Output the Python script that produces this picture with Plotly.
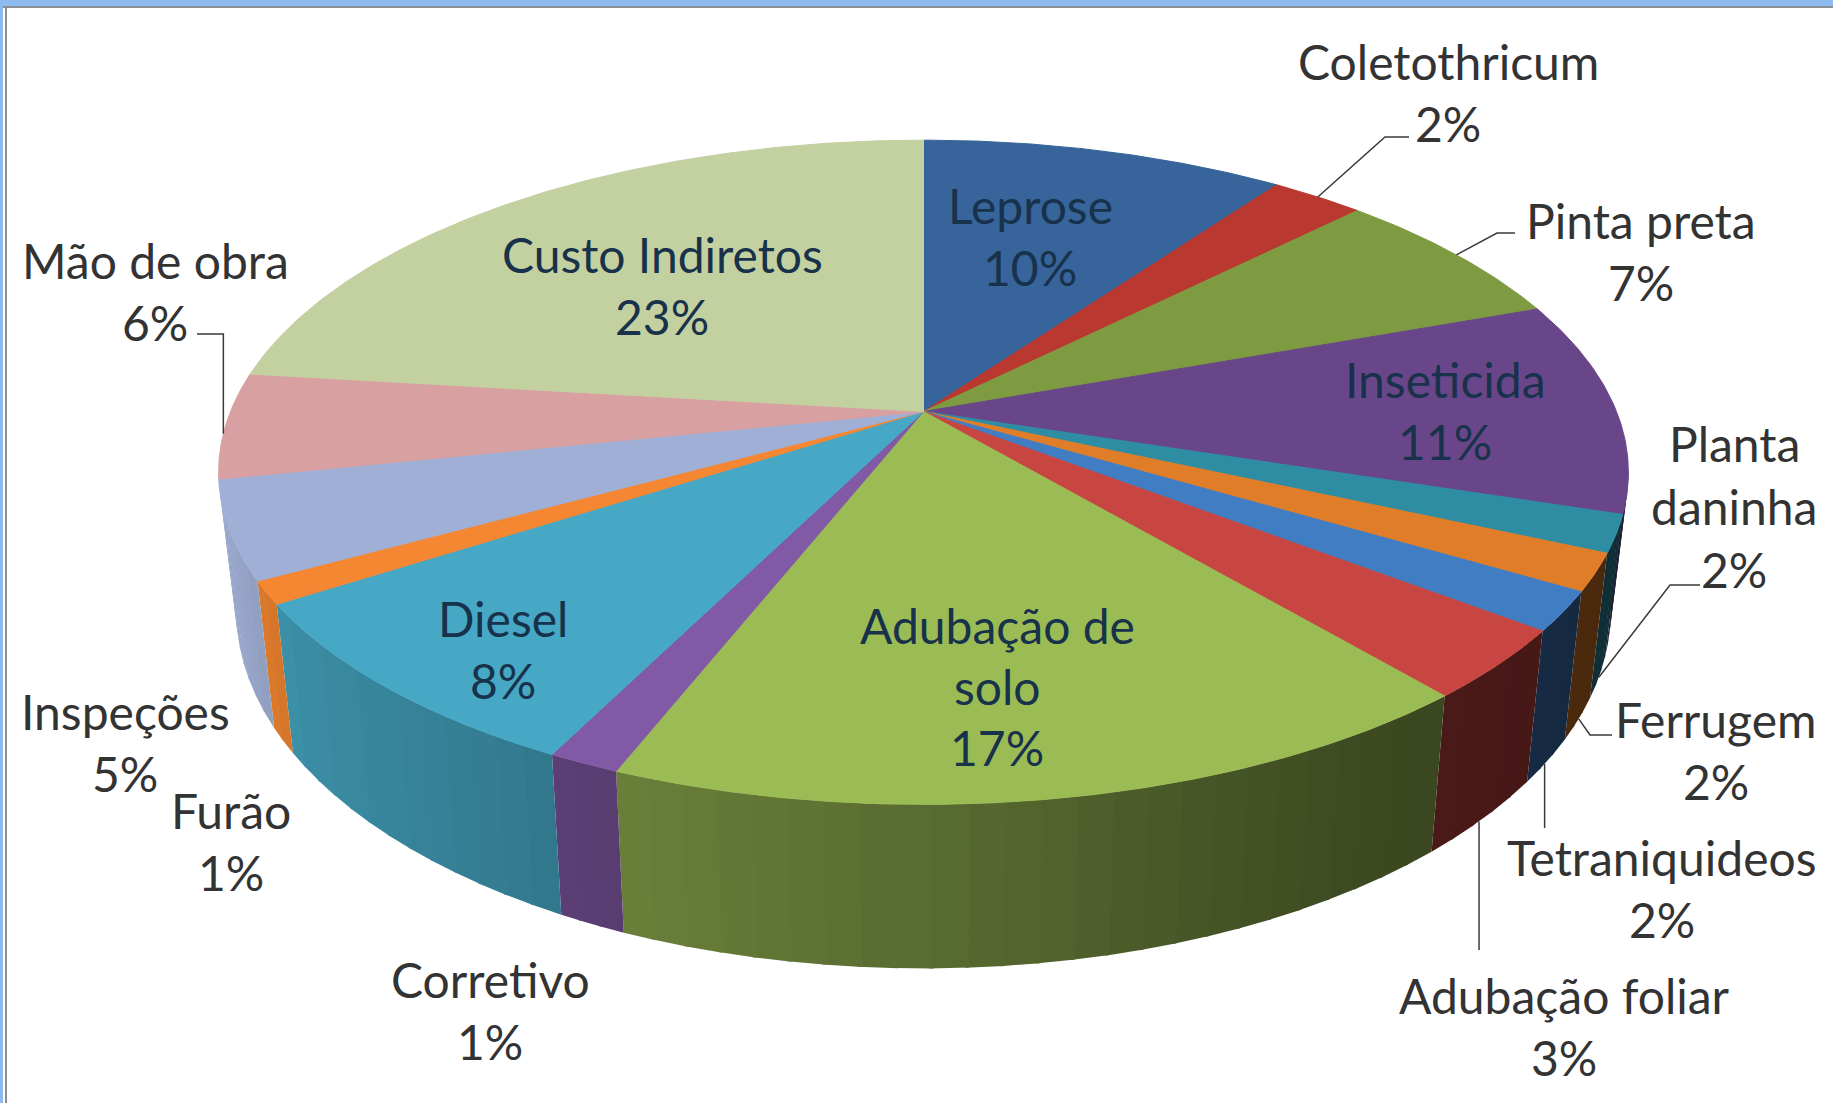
import numpy as np
import plotly.graph_objects as go

# slices, clockwise from 12 o'clock
names = ["Leprose", "Coletothricum", "Pinta preta", "Inseticida", "Planta<br>daninha",
         "Ferrugem", "Tetraniquideos", "Adubação foliar", "Adubação de<br>solo",
         "Corretivo", "Diesel", "Furão", "Inspeções", "Mão de obra", "Custo Indiretos"]
values = [9.95, 2.55, 7.0, 10.4, 1.8, 1.8, 1.9, 3.4, 17.2, 1.4, 8.5, 1.1, 4.75, 5.15, 23.1]
percent_labels = ["10%", "2%", "7%", "11%", "2%", "2%", "2%", "3%", "17%",
                  "1%", "8%", "1%", "5%", "6%", "23%"]

colors = ["#37649a", "#b9382f", "#7f9b41", "#69468a", "#2f8da3", "#e07d28", "#417dc3",
          "#c84641", "#9bbb55", "#8259a5", "#46a8c5", "#f58732", "#a0afd5", "#d8a0a0", "#c3d0a0"]

# label placement: centre x, y of first line, line gap
label_pos = {
    "Leprose": (1030, 205, 62), "Coletothricum": (1448, 61, 62), "Pinta preta": (1641, 220, 62),
    "Inseticida": (1445, 379, 62), "Planta<br>daninha": (1734, 443, 63), "Ferrugem": (1716, 719, 62),
    "Tetraniquideos": (1662, 857, 62), "Adubação foliar": (1564, 995, 62),
    "Adubação de<br>solo": (997, 625, 61), "Corretivo": (490, 979, 62), "Diesel": (503, 618, 62),
    "Furão": (231, 810, 62), "Inspeções": (125, 711, 62), "Mão de obra": (155, 260, 62),
    "Custo Indiretos": (662, 254, 62),
}
inside = {"Leprose", "Inseticida", "Adubação de<br>solo", "Diesel", "Custo Indiretos"}

# leader lines: slice, which rim, angle nudge, points towards the label (None = keep start x)
leaders = [
    ("Coletothricum", False, 0, [(1385, 137), (1409, 137)]),
    ("Pinta preta", False, 0, [(1497, 233), (1515, 233)]),
    ("Planta<br>daninha", True, 0, [(1670, 585), (1700, 585)]),
    ("Ferrugem", True, 0, [(1590, 735), (1612, 735)]),
    ("Tetraniquideos", True, 0.5, [(None, 828)]),
    ("Adubação foliar", True, 0.6, [(None, 950)]),
    ("Mão de obra", False, -1.5, [(None, 334), (197, 334)]),
]

# pie geometry in page pixels, with a simple perspective term
CX, CY = 923.5, 411.5
RX, RY = 693, 321
PERSP = 0.183
DEPTH = 134
WALL_X = 0.975
FONT = "Lato"
FONT_SIZE = 48


def rim(theta, lower=False):
    """Project an angle (degrees clockwise from top) on to the top or bottom rim."""
    t = np.radians(theta)
    s, c = -np.cos(t), np.sin(t)
    w = 1 - PERSP * s
    x = RX * c / w
    y = RY * s / w
    if lower:
        return CX + WALL_X * x, CY + y + DEPTH / w
    return CX + x, CY + y


def wall_color(hex_color, x):
    shade = np.interp(x, [230, 290, 450, 620, 1000, 1300, 1600],
                      [0.95, 0.84, 0.76, 0.68, 0.55, 0.42, 0.33])
    rgb = [int(hex_color[i:i + 2], 16) for i in (1, 3, 5)]
    return "rgb({},{},{})".format(*[int(v * shade) for v in rgb])


def add_poly(fig, xs, ys, color, width=1):
    fig.add_trace(go.Scatter(x=xs, y=ys, mode="lines", fill="toself", fillcolor=color,
                             line=dict(color=color, width=width), hoverinfo="skip", showlegend=False))


fig = go.Figure()

edges = np.concatenate([[0], np.cumsum(values)]) / sum(values) * 360
mids = (edges[:-1] + edges[1:]) / 2

# side wall first, in narrow strips so the shading can follow the rim
WALL_FROM, WALL_TO = 100, 258.3
for i, color in enumerate(colors):
    a0, a1 = max(edges[i], WALL_FROM), min(edges[i + 1], WALL_TO)
    if a1 <= a0:
        continue
    n = max(1, int(np.ceil((a1 - a0) / 2.5)))
    steps = np.linspace(a0, a1, n + 1)
    for t0, t1 in zip(steps[:-1], steps[1:]):
        # each strip runs a little into the next one to hide the seam
        arc = np.linspace(t0, min(t1 + 0.3, a1), 4)
        tx, ty = rim(arc)
        bx, by = rim(arc[::-1], lower=True)
        add_poly(fig, list(tx) + list(bx), list(ty) + list(by), wall_color(color, tx.mean()), width=0)

# top face
for i, color in enumerate(colors):
    arc = np.linspace(edges[i], edges[i + 1], max(3, int((edges[i + 1] - edges[i]) * 2)))
    tx, ty = rim(arc)
    add_poly(fig, [CX] + list(tx) + [CX], [CY] + list(ty) + [CY], color)

# leader lines start at the middle of their slice on the rim
for name, lower, nudge, points in leaders:
    sx, sy = rim(mids[names.index(name)] + nudge, lower=lower)
    xs = [sx] + [sx if p[0] is None else p[0] for p in points]
    ys = [sy] + [p[1] for p in points]
    fig.add_trace(go.Scatter(x=xs, y=ys, mode="lines", line=dict(color="#3a3a3a", width=1.5),
                             hoverinfo="skip", showlegend=False))

annotations = []
for name, pct in zip(names, percent_labels):
    x, y, gap = label_pos[name]
    color = "#17324a" if name in inside else "#333333"
    for j, line in enumerate(name.split("<br>") + [pct]):
        annotations.append(dict(x=x, y=y + j * gap, text=line, showarrow=False,
                                xanchor="center", yanchor="middle",
                                font=dict(family=FONT, size=FONT_SIZE, color=color)))

# the window frame cropped into the screenshot
frame = [
    dict(type="rect", x0=0, x1=1833, y0=0, y1=6, fillcolor="#8dbbee", line_width=0),
    dict(type="rect", x0=0, x1=1833, y0=6, y1=8, fillcolor="#8a8f96", line_width=0),
    dict(type="rect", x0=0, x1=3, y0=0, y1=1103, fillcolor="#8dbbee", line_width=0),
    dict(type="rect", x0=5, x1=7, y0=6, y1=1103, fillcolor="#8a8f96", line_width=0),
]

fig.update_layout(
    width=1833, height=1103,
    margin=dict(l=0, r=0, t=0, b=0),
    paper_bgcolor="white", plot_bgcolor="white",
    xaxis=dict(range=[0, 1833], visible=False),
    yaxis=dict(range=[1103, 0], visible=False),
    annotations=annotations,
    shapes=frame,
)

fig.write_html("out.html", config=dict(displayModeBar=False),
               post_script="document.body.style.margin='0';")
